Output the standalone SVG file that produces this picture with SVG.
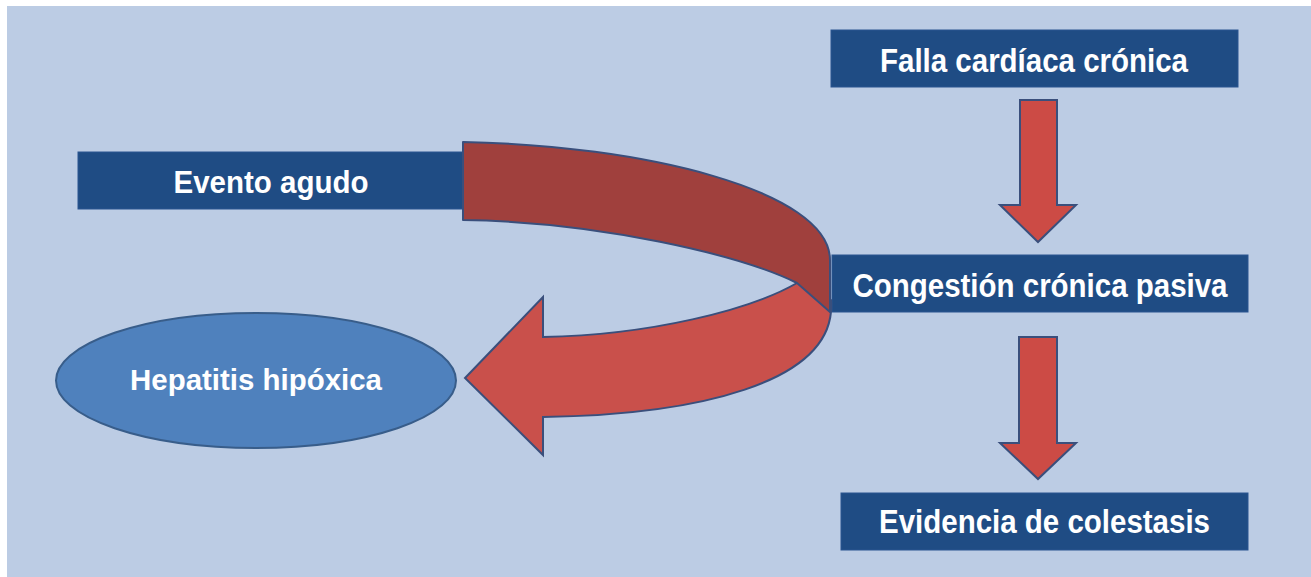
<svg xmlns="http://www.w3.org/2000/svg" width="1311" height="577" viewBox="0 0 1311 577">
<style>
.box{fill:#1F4C84;stroke:#2A5590;stroke-width:1}
.lbl{font-family:"Liberation Sans",Arial,sans-serif;font-weight:bold;fill:#FFFFFF;text-anchor:middle}
.down{fill:#CC4B45;stroke:#3A4F7C;stroke-width:2;stroke-linejoin:miter}
.back{fill:#A0403D;stroke:#3A4F7C;stroke-width:2;stroke-linejoin:round}
.front{fill:#C9504B;stroke:#3A4F7C;stroke-width:2;stroke-linejoin:miter}
</style>
<rect x="0" y="0" width="1311" height="577" fill="#FFFFFF"/>
<rect x="7" y="6" width="1304" height="571" fill="#BCCCE4"/>

<g id="evento-agudo">
<rect class="box" x="78" y="152" width="392" height="57"/>
<text class="lbl" x="271" y="193" font-size="32" textLength="195" lengthAdjust="spacingAndGlyphs">Evento agudo</text>
</g>

<g id="falla-cardiaca">
<rect class="box" x="831" y="30" width="407" height="57"/>
<text class="lbl" x="1034" y="72" font-size="34" textLength="308" lengthAdjust="spacingAndGlyphs">Falla cardíaca crónica</text>
</g>

<g id="congestion">
<rect class="box" x="832" y="255" width="416" height="57"/>
<text class="lbl" x="1040" y="297" font-size="34" textLength="375" lengthAdjust="spacingAndGlyphs">Congestión crónica pasiva</text>
</g>

<g id="evidencia">
<rect class="box" x="841" y="493" width="407" height="57"/>
<text class="lbl" x="1044.5" y="533" font-size="33" textLength="331" lengthAdjust="spacingAndGlyphs">Evidencia de colestasis</text>
</g>

<g id="hepatitis">
<ellipse cx="256" cy="380.5" rx="200" ry="67.5" fill="#4F81BD" stroke="#385D8A" stroke-width="2"/>
<text class="lbl" x="256" y="390" font-size="30" textLength="252" lengthAdjust="spacingAndGlyphs">Hepatitis hipóxica</text>
</g>

<g id="connectors">
<path class="down" d="M1020,100 L1057,100 L1057,205 L1076,205 L1038,242 L1000,205 L1020,205 Z"/>
<path class="down" d="M1019,337 L1057,337 L1057,443 L1076,443 L1038,479 L1000,443 L1019,443 Z"/>
<path class="front" d="M800,280 L831,300 C838,385 690,415 543,417 L543,455 L465,378 L543,297 L543,337 C650,335 750,310 797,283 Z"/>
<path class="back" d="M463,142 C640,145 830,190 830,260 L830,312 L797,283 C740,255 600,222 463,220 Z"/>
</g>
</svg>
